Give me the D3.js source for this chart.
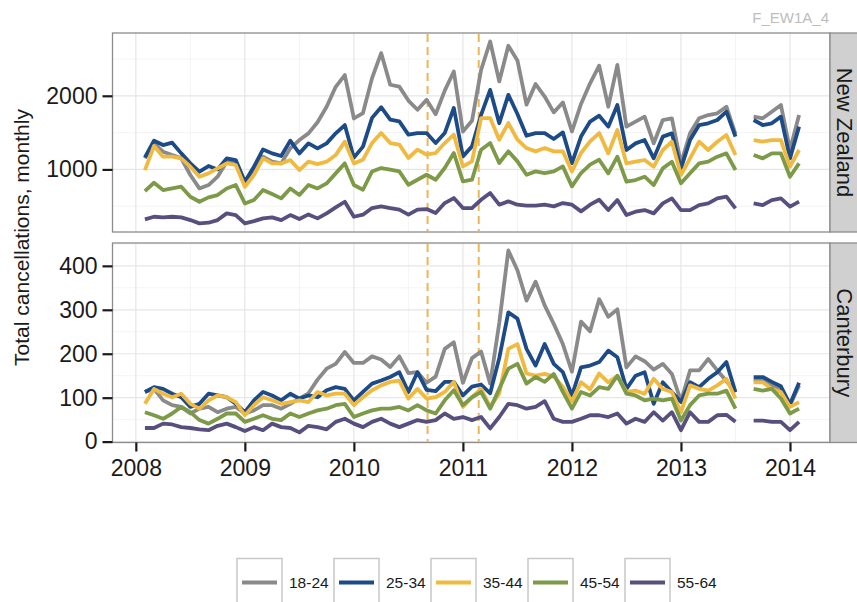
<!DOCTYPE html>
<html>
<head>
<meta charset="utf-8">
<script src="https://cdn.jsdelivr.net/npm/d3@7/dist/d3.min.js"></script>
<style>
  html, body { margin: 0; padding: 0; background: #ffffff; }
  svg { display: block; }
  text { font-family: "Liberation Sans", Arial, Helvetica, sans-serif; }
</style>
</head>
<body>
<svg id="chart" width="857" height="602"></svg>
<script>
// ---------------- DATA ----------------
const ageGroups = ["18-24", "25-34", "35-44", "45-54", "55-64"];
const panels = ["New Zealand", "Canterbury"];
const xTickYears = [2008, 2009, 2010, 2011, 2012, 2013, 2014];
const topTicks = [1000, 2000];
const bottomTicks = [0, 100, 200, 300, 400];
const quakeDates = [2010.676, 2011.145]; // 4 Sep 2010, 22 Feb 2011
// monthly series, Feb 2008 .. Feb 2014 (null = missing month)
const firstMonth = { year: 2008, month: 2 };

const nz1824 = [1150,1354,1240,1195,1150,924,742,788,901,1105,1082,810,991,1173,1105,1082,1286,1399,1490,1640,1851,2122,2281,1692,1765,2240,2580,2150,2125,1935,1810,1945,1750,2070,2330,1515,1660,2350,2738,2195,2680,2480,1880,2160,1990,1775,1910,1515,1890,2170,2410,1852,2419,1581,1649,1717,1354,1671,1694,1082,1490,1694,1739,1762,1852,1480,null,1717,1694,1784,1875,1264,1739];
const nz2534 = [1164,1390,1331,1363,1218,1082,969,1046,1000,1150,1127,833,1037,1272,1218,1182,1390,1218,1354,1286,1354,1490,1603,1160,1310,1700,1845,1676,1653,1472,1494,1494,1358,1494,1834,1177,1313,1740,2080,1628,2013,1752,1458,1492,1492,1413,1503,1085,1447,1650,1730,1581,1875,1264,1354,1399,1150,1445,1490,1014,1399,1603,1626,1671,1784,1445,null,1671,1603,1626,1717,1150,1581];
const nz3544 = [991,1318,1173,1173,1150,1037,901,946,1014,1082,1060,765,924,1150,1082,1082,1127,991,1105,1073,1105,1195,1377,1082,1132,1358,1494,1358,1336,1155,1268,1200,1223,1358,1472,1041,1109,1698,1698,1404,1630,1404,1290,1245,1290,1245,1245,973,1223,1381,1494,1218,1535,1082,1105,1128,1037,1264,1377,924,1150,1377,1264,1377,1467,1196,null,1399,1377,1399,1399,1037,1264];
const nz4554 = [706,819,720,742,765,629,561,620,652,742,788,538,584,720,665,607,742,652,788,742,810,946,1082,788,724,973,1019,996,973,792,860,928,860,1019,1223,838,860,1268,1358,1087,1245,1109,928,973,951,973,1041,770,951,1064,1132,947,1173,833,856,901,788,1014,1105,811,947,1082,1105,1173,1218,992,null,1196,1150,1218,1218,901,1082];
const nz5564 = [321,357,348,357,348,312,267,276,312,403,380,267,298,335,348,312,380,326,389,335,403,484,561,357,385,475,498,475,453,385,453,462,407,543,611,475,475,588,679,521,566,521,507,507,521,498,543,521,430,521,588,448,584,380,426,448,403,539,607,448,448,516,539,607,630,471,null,539,516,584,607,494,562];

const cant1824 = [113,120,94,83,79,64,75,79,67,75,79,64,71,83,83,75,86,98,110,141,166,177,204,179,179,194,187,170,194,156,158,134,148,211,226,134,190,205,132,270,435,390,321,364,310,268,222,159,273,251,324,284,301,169,194,183,164,177,154,92,162,162,188,162,138,112,null,138,140,128,120,82,128];
const cant2534 = [113,124,120,109,101,79,86,109,105,101,86,67,94,113,105,94,109,98,105,101,117,124,120,94,113,132,139,147,158,113,158,118,115,136,136,105,125,130,110,190,294,280,211,173,222,177,158,105,169,173,181,207,192,120,150,158,86,135,113,90,135,124,143,158,181,113,null,147,147,136,126,85,134];
const cant3544 = [86,120,109,101,109,86,75,94,105,101,90,60,83,101,94,86,90,94,90,113,105,109,109,83,101,117,128,136,139,98,120,98,101,113,136,79,101,120,79,109,211,222,155,150,154,148,125,92,135,119,155,135,150,113,116,109,143,120,113,67,128,120,116,128,143,98,null,135,135,120,113,79,90];
const cant4554 = [67,60,52,64,79,67,49,41,52,64,64,45,52,60,52,49,64,56,64,71,75,83,86,56,64,71,75,75,79,71,83,71,64,94,117,83,101,113,75,120,166,177,132,147,136,154,113,75,113,105,124,120,150,109,105,94,98,94,98,48,83,105,109,109,116,75,null,120,116,120,98,64,75];
const cant5564 = [31,31,41,39,33,31,28,26,36,41,33,24,33,26,41,33,31,21,36,33,28,45,52,41,33,45,52,41,33,41,49,45,49,64,52,56,49,56,30,56,86,83,75,79,92,52,45,45,52,60,60,56,64,41,52,45,67,48,67,26,67,45,45,60,61,45,null,48,48,45,45,26,45];

const seriesColors = ["#8a8a8a", "#1c4b87", "#f0b940", "#7d9a48", "#57507f"];

// ---------------- LAYOUT ----------------
const svg = d3.select("#chart");
const plotL = 112.5, plotR = 830;
const panelBoxes = [
  { top: 33, bottom: 232, domain: [150, 2853], ticks: topTicks, minor: [500, 1500, 2500],
    series: [nz1824, nz2534, nz3544, nz4554, nz5564] },
  { top: 243, bottom: 442.5, domain: [-2, 452], ticks: bottomTicks, minor: [50, 150, 250, 350, 450],
    series: [cant1824, cant2534, cant3544, cant4554, cant5564] }
];

const nMonths = nz1824.length;
const monthTimes = d3.range(nMonths).map(i => firstMonth.year + (firstMonth.month - 1 + i) / 12);

const x = d3.scaleLinear().domain([2007.786, 2014.367]).range([plotL, plotR]);
const xMinor = d3.range(2008.5, 2014, 1);

// caption top right
svg.append("text")
  .attr("x", 829).attr("y", 23)
  .attr("text-anchor", "end")
  .attr("font-size", 15)
  .attr("fill", "#bdbdbd")
  .text("F_EW1A_4");

panelBoxes.forEach((p, pi) => {
  const y = d3.scaleLinear().domain(p.domain).range([p.bottom, p.top]);
  const g = svg.append("g");

  g.append("rect").attr("x", plotL).attr("y", p.top)
    .attr("width", plotR - plotL).attr("height", p.bottom - p.top)
    .attr("fill", "#ffffff");

  // minor grid
  g.selectAll(".gxm").data(xMinor).join("line")
    .attr("x1", d => x(d)).attr("x2", d => x(d))
    .attr("y1", p.top).attr("y2", p.bottom)
    .attr("stroke", "#f4f4f4").attr("stroke-width", 1);
  g.selectAll(".gym").data(p.minor.filter(v => v > p.domain[0] && v < p.domain[1])).join("line")
    .attr("x1", plotL).attr("x2", plotR)
    .attr("y1", d => y(d)).attr("y2", d => y(d))
    .attr("stroke", "#f4f4f4").attr("stroke-width", 1);
  // major grid
  g.selectAll(".gx").data(xTickYears).join("line")
    .attr("x1", d => x(d)).attr("x2", d => x(d))
    .attr("y1", p.top).attr("y2", p.bottom)
    .attr("stroke", "#e6e6e6").attr("stroke-width", 1.2);
  g.selectAll(".gy").data(p.ticks).join("line")
    .attr("x1", plotL).attr("x2", plotR)
    .attr("y1", d => y(d)).attr("y2", d => y(d))
    .attr("stroke", "#e6e6e6").attr("stroke-width", 1.2);

  // earthquake dashed lines
  g.selectAll(".vq").data(quakeDates).join("line")
    .attr("x1", d => x(d)).attr("x2", d => x(d))
    .attr("y1", p.top + 1).attr("y2", p.bottom - 1)
    .attr("stroke", "#ecb655").attr("stroke-width", 2)
    .attr("stroke-dasharray", "8,5");

  // series lines
  const line = d3.line()
    .defined(d => d.v !== null)
    .x(d => x(d.t)).y(d => y(d.v));
  p.series.forEach((vals, si) => {
    const pts = vals.map((v, i) => ({ t: monthTimes[i], v: v }));
    g.append("path").datum(pts)
      .attr("d", line)
      .attr("fill", "none")
      .attr("stroke", seriesColors[si])
      .attr("stroke-width", 3.8)
      .attr("stroke-linejoin", "round");
  });

  // panel border
  g.append("rect").attr("x", plotL).attr("y", p.top)
    .attr("width", plotR - plotL).attr("height", p.bottom - p.top)
    .attr("fill", "none").attr("stroke", "#8c8c8c").attr("stroke-width", 1.3);

  // strip
  g.append("rect").attr("x", plotR).attr("y", p.top)
    .attr("width", 40).attr("height", p.bottom - p.top)
    .attr("fill", "#d0d0d0").attr("stroke", "#8c8c8c").attr("stroke-width", 1.3);
  const cy = (p.top + p.bottom) / 2;
  g.append("text")
    .attr("transform", `translate(837,${cy}) rotate(90)`)
    .attr("text-anchor", "middle")
    .attr("font-size", 22)
    .attr("fill", "#1a1a1a")
    .text(panels[pi]);

  // y axis
  const yAxis = d3.axisLeft(y).tickValues(p.ticks).tickSize(10).tickPadding(5).tickFormat(d3.format("d"));
  const ya = svg.append("g").attr("transform", `translate(${plotL},0)`).call(yAxis);
  ya.select(".domain").remove();
  ya.selectAll(".tick line").attr("stroke", "#1a1a1a").attr("stroke-width", 2.2);
  ya.selectAll(".tick text").attr("font-size", 23).attr("fill", "#1a1a1a")
    .attr("font-family", "Liberation Sans, Arial, sans-serif");
});

// x axis (bottom panel)
const xAxis = d3.axisBottom(x).tickValues(xTickYears).tickSize(9).tickPadding(8).tickFormat(d3.format("d"));
const xa = svg.append("g").attr("transform", `translate(0,${panelBoxes[1].bottom})`).call(xAxis);
xa.select(".domain").remove();
xa.selectAll(".tick line").attr("stroke", "#1a1a1a").attr("stroke-width", 2.2);
xa.selectAll(".tick text").attr("font-size", 23).attr("fill", "#1a1a1a")
  .attr("font-family", "Liberation Sans, Arial, sans-serif");

// y title
svg.append("text")
  .attr("transform", `translate(29,${(33 + 442) / 2}) rotate(-90)`)
  .attr("text-anchor", "middle")
  .attr("font-size", 21)
  .attr("fill", "#1a1a1a")
  .text("Total cancellations, monthly");

// legend
const legend = svg.append("g");
ageGroups.forEach((lab, i) => {
  const bx = 237 + i * 97;
  legend.append("rect").attr("x", bx).attr("y", 558.5)
    .attr("width", 45).attr("height", 48)
    .attr("fill", "#ffffff").attr("stroke", "#c8c8c8").attr("stroke-width", 1.5);
  legend.append("line").attr("x1", bx + 5).attr("x2", bx + 40)
    .attr("y1", 582.5).attr("y2", 582.5)
    .attr("stroke", seriesColors[i]).attr("stroke-width", 3.8);
  legend.append("text").attr("x", bx + 52).attr("y", 582.5)
    .attr("dy", "0.36em")
    .attr("font-size", 15.5).attr("fill", "#1a1a1a")
    .text(lab);
});
</script>
</body>
</html>
